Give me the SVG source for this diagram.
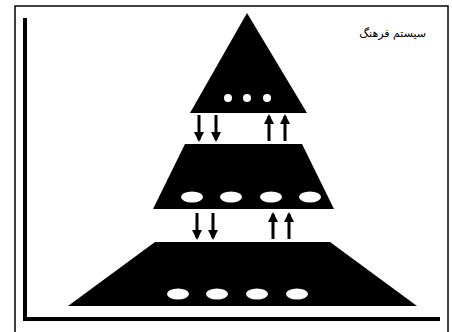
<svg xmlns="http://www.w3.org/2000/svg" width="452" height="332" viewBox="0 0 452 332">
<defs>
<style>
.shape{fill:#000}
.hole{fill:#fff}
.arr{stroke:#000;stroke-width:3;fill:none;marker-end:url(#ah)}
.lbl{font-family:"DejaVu Sans","Noto Sans",sans-serif;font-size:11px;fill:#000}
</style>
<marker id="ah" markerUnits="userSpaceOnUse" markerWidth="10" markerHeight="10" viewBox="0 0 10 10" refX="8" refY="5" orient="auto">
<path d="M0,0 L10,5 L0,10 z" fill="#000"/>
</marker>
</defs>
<rect width="452" height="332" fill="#fff"/>
<g id="frame">
<rect x="15" y="6" width="433" height="336" fill="none" stroke="#000" stroke-width="1.5"/>
<path d="M25,18 L25,319 L440,319" fill="none" stroke="#000" stroke-width="4"/>
</g>
<g id="title">
<text class="lbl" x="426" y="37" text-anchor="end">سیستم فرهنگ</text>
</g>
<g id="top-triangle">
<polygon class="shape" points="247,13 307,113 190,113"/>
<circle class="hole" cx="228" cy="98" r="4"/>
<circle class="hole" cx="247" cy="98" r="4"/>
<circle class="hole" cx="267" cy="98" r="4"/>
</g>
<g id="middle-trapezoid">
<polygon class="shape" points="185,144 302,144 334,209 153,209"/>
<ellipse class="hole" cx="192" cy="197" rx="11" ry="5.5"/>
<ellipse class="hole" cx="231" cy="197" rx="11" ry="5.5"/>
<ellipse class="hole" cx="271" cy="197" rx="11" ry="5.5"/>
<ellipse class="hole" cx="310" cy="197" rx="11" ry="5.5"/>
</g>
<g id="bottom-trapezoid">
<polygon class="shape" points="155,242 330,242 417,306 68,306"/>
<ellipse class="hole" cx="178" cy="294" rx="11" ry="5.5"/>
<ellipse class="hole" cx="217" cy="294" rx="11" ry="5.5"/>
<ellipse class="hole" cx="257" cy="294" rx="11" ry="5.5"/>
<ellipse class="hole" cx="297" cy="294" rx="11" ry="5.5"/>
</g>
<g id="connectors">
<line class="arr" x1="199" y1="115" x2="199" y2="140"/>
<line class="arr" x1="216" y1="115" x2="216" y2="140"/>
<line class="arr" x1="269" y1="141" x2="269" y2="116"/>
<line class="arr" x1="285" y1="141" x2="285" y2="116"/>
<line class="arr" x1="197" y1="213" x2="197" y2="238"/>
<line class="arr" x1="213" y1="213" x2="213" y2="238"/>
<line class="arr" x1="273" y1="239" x2="273" y2="214"/>
<line class="arr" x1="289" y1="239" x2="289" y2="214"/>
</g>
</svg>
